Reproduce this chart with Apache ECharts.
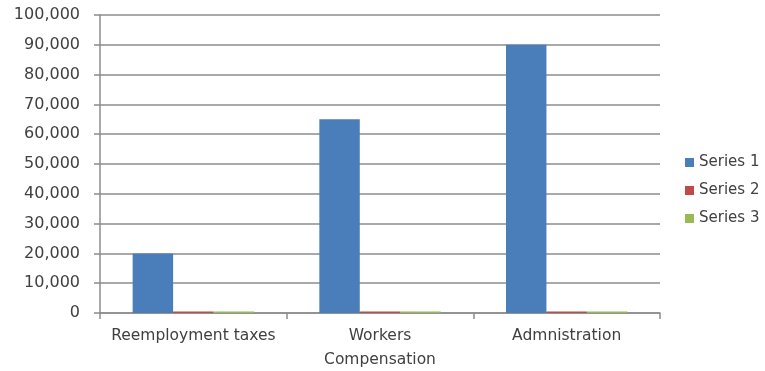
<!DOCTYPE html>
<html><head><meta charset="utf-8">
<script src="https://cdn.jsdelivr.net/npm/echarts@6/dist/echarts.min.js"></script>
<style>html,body{margin:0;padding:0;background:#fff}#c{width:765px;height:371px}</style>
</head><body><div id="c"></div>
<script>
const categories = ["Reemployment taxes", "Workers\nCompensation", "Admnistration"];
const series1 = [20000, 65000, 90000];
const series2 = [500, 500, 500];
const series3 = [500, 500, 500];
const seriesNames = ["Series 1", "Series 2", "Series 3"];
const colors = ["#4a7ebb", "#be4b48", "#98b954"];

const chart = echarts.init(document.getElementById('c'));
const font = "DejaVu Sans";
chart.setOption({
  animation: false,
  color: colors,
  grid: {left: 100, right: 105, top: 15, bottom: 58, containLabel: false, outerBoundsMode: 'none'},
  legend: {
    orient: 'vertical', left: 680, top: 150, itemWidth: 9, itemHeight: 9, itemGap: 13,
    icon: 'rect',
    textStyle: {fontFamily: font, fontSize: 15, color: '#404040'},
    data: seriesNames
  },
  xAxis: {
    type: 'category', data: categories,
    axisLine: {lineStyle: {color: '#8c8c8c', width: 1.5}},
    axisTick: {show: true, length: 6, lineStyle: {color: '#8c8c8c', width: 1.5}},
    axisLabel: {fontFamily: font, fontSize: 15.5, color: '#404040', margin: 11, lineHeight: 24, interval: 0}
  },
  yAxis: {
    type: 'value', min: 0, max: 100000, interval: 10000,
    axisLine: {show: true, lineStyle: {color: '#8c8c8c', width: 1.5}},
    axisTick: {show: true, length: 6, lineStyle: {color: '#8c8c8c', width: 1.5}},
    splitLine: {lineStyle: {color: '#8c8c8c', width: 1.5}},
    axisLabel: {fontFamily: font, fontSize: 16, color: '#404040', margin: 20,
      formatter: v => v.toLocaleString('en-US')}
  },
  series: [
    {name: seriesNames[0], type: 'bar', data: series1, barGap: '0%', barCategoryGap: '35%'},
    {name: seriesNames[1], type: 'bar', data: series2},
    {name: seriesNames[2], type: 'bar', data: series3}
  ]
});
</script></body></html>
